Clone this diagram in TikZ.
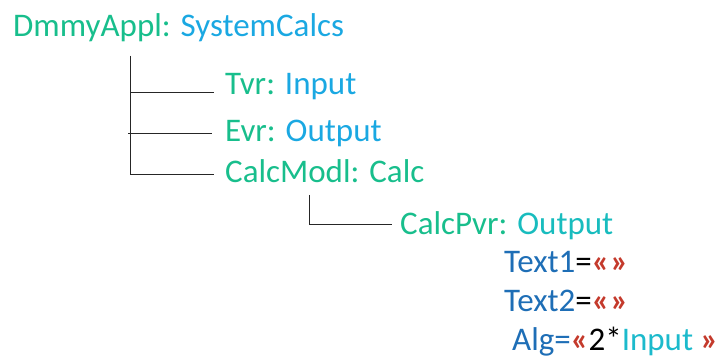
\documentclass[tikz,border=0pt]{standalone}
\usepackage{fontspec}
\setmainfont{Carlito}
\definecolor{cgreen}{RGB}{24,190,140}
\definecolor{cblue}{RGB}{26,168,226}
\definecolor{cteal}{RGB}{24,188,190}
\definecolor{cdark}{RGB}{30,110,182}
\definecolor{cred}{RGB}{196,58,44}
\definecolor{ccyan}{RGB}{28,186,204}
\newcommand{\quo}[1]{\textcolor{cred}{\bfseries #1}}
\tikzset{
  lbl/.style={anchor=base west, inner sep=0pt, font=\fontsize{33}{39}\selectfont},
  branch/.style={draw=black!85, line width=0.9pt}
}
\begin{document}
\begin{tikzpicture}[x=1pt,y=-1pt]
  \useasboundingbox (0,0) rectangle (718,358);
  % object tree
  \node[lbl] (root) at (13,37) {\textcolor{cgreen}{DmmyAppl:} \textcolor{cblue}{SystemCalcs}};
  \node[lbl] (tvr) at (225,95) {\textcolor{cgreen}{Tvr:} \textcolor{cblue}{Input}};
  \node[lbl] (evr) at (225,142) {\textcolor{cgreen}{Evr:} \textcolor{cblue}{Output}};
  \node[lbl] (calcmodl) at (225,183) {\textcolor{cgreen}{CalcModl: Calc}};
  \node[lbl] (calcpvr) at (400,235) {\textcolor{cgreen}{CalcPvr:} \textcolor{cteal}{Output}};
  % attributes of CalcPvr
  \node[lbl] (text1) at (504,273) {\textcolor{cdark}{Text1}=\quo{«\kern1pt»}};
  \node[lbl] (text2) at (504,312) {\textcolor{cdark}{Text2}=\quo{«\kern1pt»}};
  \node[lbl] (alg) at (512,350) {\textcolor{cdark}{Alg=}\quo{«}2*\textcolor{ccyan}{Input} \quo{»}};
  % branches
  \coordinate (trunk) at (130,56);
  \draw[branch] (trunk) |- ([xshift=-11pt,yshift=3pt]tvr.base west);
  \draw[branch] (trunk |- evr.base) ++(-2,-9) -- ([xshift=-13pt,yshift=9pt]evr.base west);
  \draw[branch] (trunk) |- ([xshift=-11pt,yshift=9pt]calcmodl.base west);
  \coordinate (sub) at (309,195);
  \draw[branch] (sub) |- ([xshift=-8pt,yshift=11pt]calcpvr.base west);
\end{tikzpicture}
\end{document}
